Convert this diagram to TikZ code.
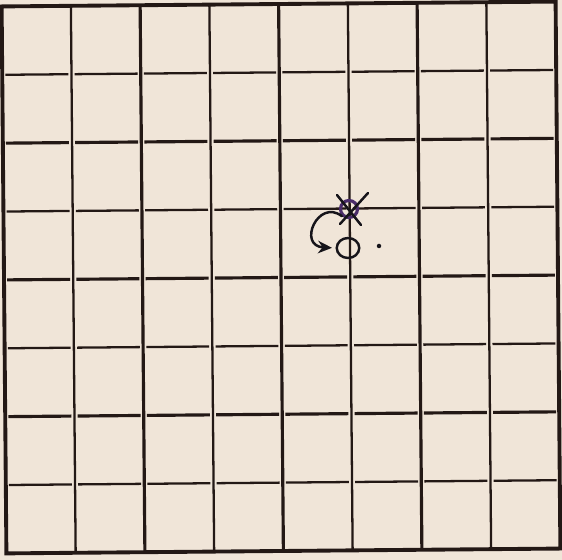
\documentclass[tikz,border=0pt]{standalone}
\usepackage{tikz}
\usetikzlibrary{arrows.meta, shapes.geometric}
\definecolor{paperA}{HTML}{F0E5D8}
\definecolor{inkA}{HTML}{231815}
\definecolor{penA}{HTML}{16141A}
\definecolor{violetA}{HTML}{4A2C6A}
\tikzset{
  frame/.style={draw=inkA, line width=2.2pt},
  thinrule/.style={draw=inkA, line width=1.3pt},
  thickrule/.style={draw=inkA, line width=1.8pt},
  gapped/.style={shorten <=1.8pt, shorten >=1.8pt},
  penline/.style={draw=penA, line width=1.4pt, line cap=round},
  ring/.style={circle, draw=violetA, line width=1.8pt, minimum size=0.34cm, inner sep=0pt},
  omark/.style={ellipse, draw=penA, line width=1.4pt, minimum width=0.45cm, minimum height=0.4cm, inner sep=0pt},
  dotmark/.style={circle, fill=penA, minimum size=0.09cm, inner sep=0pt},
  penarrow/.style={penline, -{Stealth[length=2.8mm, width=2.5mm]}}
}

\begin{document}
\begin{tikzpicture}[x=0.02cm, y=-0.02cm]
  \useasboundingbox[fill=paperA] (0,0) rectangle (562,560);

  % the board, 8 by 8, a little skewed on the page
  \begin{scope}[rotate around={0.5:(281,277)}]
    \foreach \i in {1,3,5,7}
      \draw[thinrule] ({4+69.25*\i},4) -- ({4+69.25*\i},551);
    \foreach \i in {2,4,6}
      \draw[thickrule] ({4+69.25*\i},4) -- ({4+69.25*\i},551);
    \foreach \j in {1,3,5,7}
      \foreach \i in {0,...,7}
        \draw[thinrule, gapped] ({4+69.25*\i},{4+68.375*\j}) -- ({4+69.25*(\i+1)},{4+68.375*\j});
    \foreach \j in {2,4,6}
      \foreach \i in {0,...,7}
        \draw[thickrule, gapped] ({4+69.25*\i},{4+68.375*\j}) -- ({4+69.25*(\i+1)},{4+68.375*\j});
    \draw[frame] (4,4) rectangle (558,551);
  \end{scope}

  % marks in pen
  \node[ring] (xmark) at (349,209) {};
  \draw[penline] (337,195) -- (361,225);
  \draw[penline] (368,193) -- (340,224);
  \node[omark] (omark) at (348,248) {};
  \node[dotmark] (dot) at (379,246) {};

  \draw[penarrow, shorten >=2pt] (xmark.225) .. controls (318,198) and (297,246) .. (omark.west);
\end{tikzpicture}
\end{document}
